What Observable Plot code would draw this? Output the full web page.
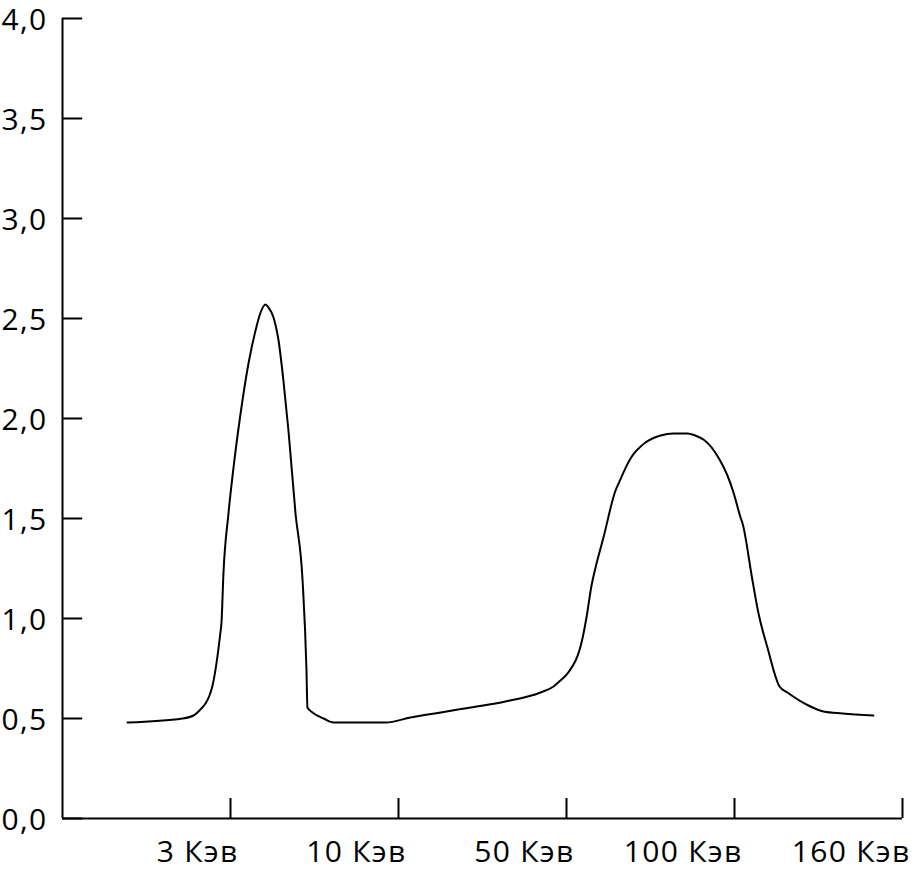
<!DOCTYPE html>
<html><head><meta charset="utf-8">
<script src="https://cdn.jsdelivr.net/npm/d3@7"></script>
<script src="https://cdn.jsdelivr.net/npm/@observablehq/plot@0.6"></script>
<style>body{margin:0;background:#fff} svg text{letter-spacing:1.3px}</style>
</head><body><div id="chart"></div>
<script>
// Energy position along the axis (tick 1 = 3 Кэв, 2 = 10 Кэв, 3 = 50 Кэв, 4 = 100 Кэв, 5 = 160 Кэв)
const energyPos = [0.387,0.714,0.780,0.821,0.851,0.875,0.893,0.940,0.946,0.958,0.988,1.018,1.060,1.107,1.149,1.179,1.208,1.226,1.256,1.286,1.315,1.345,1.387,1.429,1.452,1.458,1.488,1.554,1.613,1.923,2.071,2.429,2.637,2.845,2.923,2.964,3.006,3.095,3.119,3.149,3.173,3.220,3.292,3.310,3.381,3.470,3.560,3.637,3.720,3.780,3.815,3.911,3.958,3.994,4.036,4.048,4.107,4.143,4.196,4.268,4.315,4.440,4.530,4.643,4.827];
const intensity = [0.48,0.50,0.515,0.545,0.575,0.615,0.665,0.93,0.975,1.225,1.525,1.755,2.025,2.275,2.44,2.53,2.57,2.555,2.505,2.39,2.19,1.94,1.525,1.19,0.75,0.555,0.53,0.50,0.48,0.48,0.505,0.555,0.585,0.63,0.66,0.69,0.725,0.90,1.005,1.165,1.255,1.405,1.64,1.675,1.80,1.88,1.915,1.925,1.925,1.91,1.895,1.795,1.715,1.63,1.505,1.475,1.19,1.025,0.855,0.66,0.63,0.565,0.535,0.525,0.515];
const xTickPos = [1,2,3,4,5];
const xTickLabels = ["3 Кэв","10 Кэв","50 Кэв","100 Кэв","160 Кэв"];
const yTicks = [0,0.5,1,1.5,2,2.5,3,3.5,4];

const data = energyPos.map((x,i)=>({x, y: intensity[i]}));
const fmt = d => d3.format(".1f")(d).replace(".", ",");
const FS = 30;

const chart = Plot.plot({
  width: 912, height: 872,
  marginLeft: 62, marginRight: 10, marginTop: 18, marginBottom: 54,
  x: {domain: [0,5], axis: null},
  y: {domain: [0,4], axis: null},
  style: {fontFamily: "'Open Sans', sans-serif", background: "#fff", color: "#000", overflow: "visible"},
  marks: [
    Plot.ruleX([0], {y1: 0, y2: 4, stroke: "#000", strokeWidth: 2}),
    Plot.ruleY([0], {x1: 0, x2: 5, stroke: "#000", strokeWidth: 2}),
    Plot.ruleY(yTicks, {y: d=>d, x1: 0, x2: 0.12, stroke: "#000", strokeWidth: 2}),
    Plot.ruleX(xTickPos, {x: d=>d, y1: 0, y2: 0.1, stroke: "#000", strokeWidth: 2}),
    Plot.text(yTicks, {x: 0, y: d=>d, text: fmt, textAnchor: "end", dx: -15, dy: 2, fontSize: FS, fill: "#000"}),
    Plot.text(xTickPos, {x: d=>d, y: 0, text: (d,i)=>xTickLabels[i], textAnchor: "end", dx: 8, dy: 34, fontSize: FS, fill: "#000"}),
    Plot.line(data, {x: "x", y: "y", curve: "monotone-x", stroke: "#000", strokeWidth: 2})
  ]
});
document.getElementById("chart").append(chart);
</script>
</body></html>
